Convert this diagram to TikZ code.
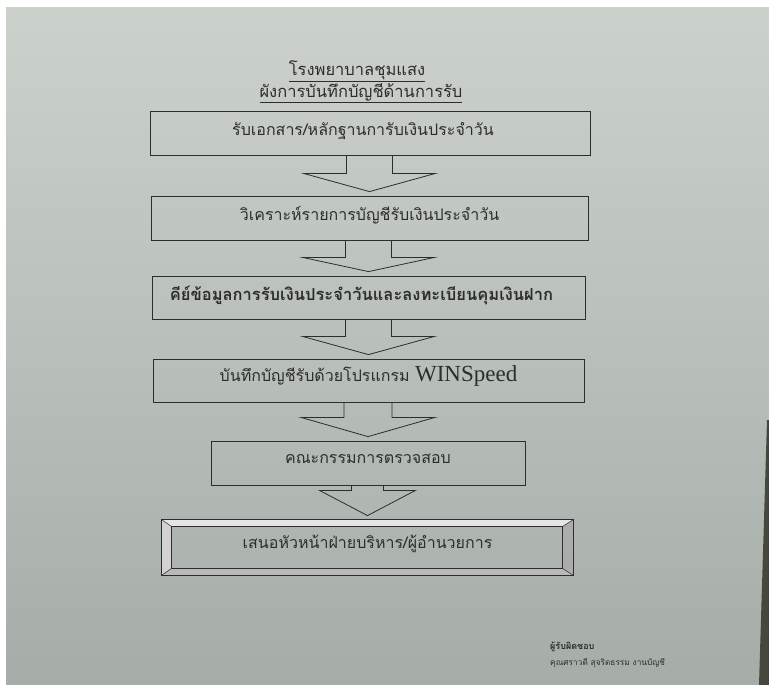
\documentclass[tikz,border=0pt]{standalone}
\usepackage{fontspec}
\usepackage{xcolor}
\setmainfont{Liberation Serif}
\newfontfamily\thaifont[Script=Thai]{Loma}
\usetikzlibrary{
    calc,
    positioning,
}

\definecolor{paperTop}{RGB}{204,209,204}
\definecolor{paperMid}{RGB}{216,221,216}
\definecolor{paperBot}{RGB}{166,173,168}
\definecolor{ink}{RGB}{45,45,45}
\definecolor{edgeStrip}{RGB}{70,72,62}

% block arrow between two boxes: from, to, stem half width, head half width, stem length
\newcommand{\blockarrow}[5]{%
    \draw[arrowLine] let \p1=(#1.south), \p2=(#2.north) in
        (\x2-#3,\y1) -- (\x2-#3,\y1-#5) -- (\x2-#4,\y1-#5) -- (\x2,\y2+4pt)
        -- (\x2+#4,\y1-#5) -- (\x2+#3,\y1-#5) -- (\x2+#3,\y1);
}

\begin{document}
\begin{tikzpicture}[x=1pt,y=-1pt]

    \tikzstyle{commonNode}=[font=\thaifont\fontsize{16}{18}\selectfont, text=ink, align=center]
    \tikzstyle{stepBox}=[commonNode, rectangle, draw=ink, line width=0.8pt, text depth=9pt, inner sep=0pt]
    \tikzstyle{titleText}=[commonNode, font=\thaifont\fontsize{16.5}{18}\selectfont]
    \tikzstyle{signText}=[commonNode, anchor=west, inner sep=0pt]
    \tikzstyle{arrowLine}=[draw=ink, line width=0.8pt, line join=miter]

    \useasboundingbox (0,0) rectangle (769,685);

    % Paper
    \fill[white] (0,0) rectangle (769,685);
    \shade[top color=paperTop, middle color=paperMid, bottom color=paperBot] (6,8) rectangle (769,684);
    \fill[edgeStrip] (767,420) -- (769,420) -- (769,685) -- (759,685) -- cycle;

    % Title
    \node at (357, 71) [titleText] (hosp)  {\underline{โรงพยาบาลชุมแสง}};
    \node at (361, 93) [titleText] (chart) {\underline{ผังการบันทึกบัญชีด้านการรับ}};

    % Steps
    \node at (370, 133)   [stepBox, minimum width=440pt, minimum height=44pt] (rcv)
        {รับเอกสาร/หลักฐานการับเงินประจำวัน\hspace*{14pt}};
    \node at (369.5, 218) [stepBox, minimum width=437pt, minimum height=44pt] (analyse)
        {วิเคราะห์รายการบัญชีรับเงินประจำวัน};
    \node at (368.5, 297.5) [stepBox, minimum width=433pt, minimum height=43pt] (keyin)
        {\fontsize{16.5}{18}\selectfont\bfseries คีย์ข้อมูลการรับเงินประจำวันและลงทะเบียนคุมเงินฝาก\hspace*{14pt}};
    \node at (368.5, 380.5) [stepBox, minimum width=431pt, minimum height=43pt, text depth=13pt] (post)
        {บันทึกบัญชีรับด้วยโปรแกรม {\rmfamily\fontsize{23}{25}\selectfont WINSpeed}};
    \node at (368, 463)   [stepBox, minimum width=314pt, minimum height=44pt] (audit)
        {คณะกรรมการตรวจสอบ};
    \node at (367.5, 547.5) [stepBox, minimum width=411pt, minimum height=55pt] (report) {};

    % Bevel of the last box
    \fill[gray!20] (report.north west) -- (report.north east) -- ($(report.north east)+(-11pt,-7pt)$) -- ($(report.north west)+(10pt,-7pt)$) -- cycle;
    \fill[gray!35] (report.north west) -- ($(report.north west)+(10pt,-7pt)$) -- ($(report.south west)+(10pt,7pt)$) -- (report.south west) -- cycle;
    \fill[gray!65] (report.north east) -- ($(report.north east)+(-11pt,-7pt)$) -- ($(report.south east)+(-11pt,7pt)$) -- (report.south east) -- cycle;
    \fill[gray!55] (report.south west) -- ($(report.south west)+(10pt,7pt)$) -- ($(report.south east)+(-11pt,7pt)$) -- (report.south east) -- cycle;
    \draw[arrowLine] (report.north west) rectangle (report.south east);
    \draw[arrowLine] ($(report.north west)+(10pt,-7pt)$) rectangle ($(report.south east)+(-11pt,7pt)$);
    \draw[ink, line width=0.5pt] (report.north west) -- ++(10pt,-7pt)
                                 (report.north east) -- ++(-11pt,-7pt)
                                 (report.south west) -- ++(10pt,7pt)
                                 (report.south east) -- ++(-11pt,7pt);
    \node at (report.center) [commonNode, yshift=4pt] (reportText) {เสนอหัวหน้าฝ่ายบริหาร/ผู้อำนวยการ};

    % Arrows
    \blockarrow{rcv}{analyse}{23pt}{66pt}{18pt}
    \blockarrow{analyse}{keyin}{23pt}{66pt}{17pt}
    \blockarrow{keyin}{post}{23pt}{66pt}{17pt}
    \blockarrow{post}{audit}{24pt}{67pt}{15pt}
    \blockarrow{audit}{report}{16pt}{48pt}{5pt}

    % Signature
    \node at (550, 647) [signText, font=\thaifont\bfseries\fontsize{9}{11}\selectfont] (resp) {ผู้รับผิดชอบ};
    \node at (550, 663) [signText, font=\thaifont\fontsize{8.3}{10}\selectfont] (resname) {คุณศราวดี สุจริตธรรม งานบัญชี};

\end{tikzpicture}
\end{document}
